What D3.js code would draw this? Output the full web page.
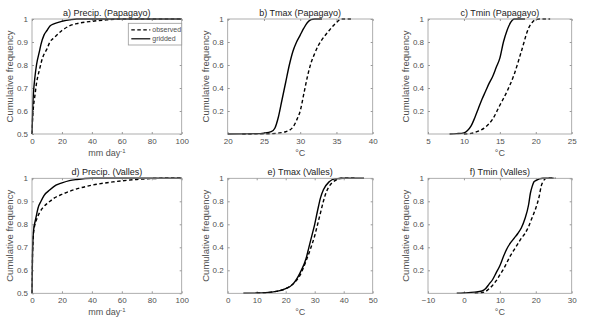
<!DOCTYPE html>
<html>
<head>
<meta charset="utf-8">
<style>
  body { margin: 0; background: #fff; }
  svg { display: block; }
</style>
</head>
<body>
<svg width="591" height="333"></svg>

<script src="https://d3js.org/d3.v7.min.js"></script>
<script>

	// Cumulative frequency curves, observed vs gridded
	// values as [x, cdf] pairs

	const precipPapObserved = [[0,0.5],[0.5,0.58],[1,0.62],[2,0.67],[3,0.72],[5,0.78],[7,0.83],[10,0.87],[12,0.9],[15,0.92],[20,0.95],[25,0.97],[30,0.98],[40,0.99],[50,0.996],[60,1],[100,1]]
	const precipPapGridded = [[0,0.5],[0.5,0.62],[1,0.68],[2,0.75],[3,0.8],[5,0.86],[6,0.89],[8,0.93],[10,0.95],[12,0.97],[15,0.98],[20,0.99],[25,0.996],[30,1],[100,1]]

	const tmaxPapObserved = [[22,0],[26,0.003],[28,0.02],[29,0.06],[29.5,0.12],[30,0.2],[30.5,0.35],[31,0.5],[31.5,0.62],[32,0.7],[32.5,0.77],[33,0.82],[34,0.9],[35,0.97],[35.7,1],[37,1]]
	const tmaxPapGridded = [[20,0],[24,0.003],[25,0.008],[26,0.02],[26.5,0.05],[27,0.15],[27.5,0.3],[28,0.45],[28.5,0.6],[29,0.72],[29.5,0.8],[30,0.86],[30.5,0.92],[31,0.97],[31.5,0.995],[32,1],[33,1]]

	const tminPapObserved = [[10,0],[11,0.005],[12,0.025],[13,0.06],[14,0.13],[15,0.25],[16,0.37],[17,0.52],[18,0.72],[19,0.92],[19.5,0.97],[20,0.995],[20.5,1],[22,1]]
	const tminPapGridded = [[8,0],[9,0.003],[10,0.01],[10.5,0.03],[11,0.07],[11.5,0.14],[12,0.22],[12.5,0.3],[13,0.37],[13.5,0.44],[14,0.5],[14.5,0.58],[15,0.66],[15.5,0.8],[16,0.9],[16.5,0.97],[17,1],[18.5,1]]

	const precipValObserved = [[0,0.5],[0.3,0.65],[0.6,0.72],[1,0.76],[2,0.8],[3,0.82],[5,0.85],[7,0.87],[10,0.89],[12,0.9],[15,0.915],[20,0.93],[28,0.95],[40,0.97],[55,0.985],[70,0.995],[90,1],[100,1]]
	const precipValGridded = [[0,0.5],[0.3,0.66],[0.6,0.73],[1,0.77],[2,0.81],[3,0.84],[4,0.87],[6,0.9],[8,0.925],[12,0.95],[16,0.97],[20,0.98],[25,0.99],[30,0.995],[40,1],[100,1]]

	const tmaxValObserved = [[10,0],[15,0.01],[20,0.04],[22.5,0.08],[25,0.16],[27,0.28],[29,0.42],[30,0.5],[31,0.6],[32,0.7],[33,0.8],[34,0.88],[35,0.93],[37,0.98],[39,1],[44,1]]
	const tmaxValGridded = [[5.4,0],[10,0.002],[15,0.01],[20,0.04],[22.5,0.08],[25,0.18],[27,0.3],[28,0.4],[29,0.5],[30,0.6],[31,0.72],[32,0.83],[33,0.9],[35,0.97],[37,0.995],[40,1],[47,1]]

	const tminValObserved = [[3,0],[5,0.005],[6,0.015],[7,0.04],[8,0.07],[9,0.11],[10,0.16],[11,0.21],[12,0.27],[13,0.33],[14,0.38],[15,0.43],[16,0.48],[17,0.52],[18,0.58],[19,0.66],[20,0.74],[21,0.85],[21.5,0.93],[22,0.97],[23,1],[25.5,1]]
	const tminValGridded = [[-2,0],[0,0.003],[3,0.01],[5,0.02],[6,0.04],[7,0.08],[8,0.12],[9,0.18],[10,0.24],[11,0.32],[12,0.39],[13,0.44],[14,0.48],[15,0.52],[16,0.57],[17,0.65],[18,0.77],[18.5,0.87],[19,0.93],[19.5,0.97],[20,0.98],[21,0.995],[22,1],[25,1]]

	const precipTicksY = [0.5, 0.6, 0.7, 0.8, 0.9, 1]
	const tempTicksY = [0.2, 0.4, 0.6, 0.8, 1]

	const panels = [
		{title: "a) Precip. (Papagayo)", x: [0, 100], xt: [0, 20, 40, 60, 80, 100], y: [0.5, 1], yt: precipTicksY, unit: "mm", obs: precipPapObserved, grid: precipPapGridded, col: 0, row: 0, legend: true},
		{title: "b) Tmax (Papagayo)", x: [20, 40], xt: [20, 25, 30, 35, 40], y: [0, 1], yt: tempTicksY, unit: "C", obs: tmaxPapObserved, grid: tmaxPapGridded, col: 1, row: 0},
		{title: "c) Tmin (Papagayo)", x: [5, 25], xt: [5, 10, 15, 20, 25], y: [0, 1], yt: tempTicksY, unit: "C", obs: tminPapObserved, grid: tminPapGridded, col: 2, row: 0},
		{title: "d) Precip. (Valles)", x: [0, 100], xt: [0, 20, 40, 60, 80, 100], y: [0.5, 1], yt: precipTicksY, unit: "mm", obs: precipValObserved, grid: precipValGridded, col: 0, row: 1},
		{title: "e) Tmax (Valles)", x: [0, 50], xt: [0, 10, 20, 30, 40, 50], y: [0, 1], yt: tempTicksY, unit: "C", obs: tmaxValObserved, grid: tmaxValGridded, col: 1, row: 1},
		{title: "f) Tmin (Valles)", x: [-10, 30], xt: [-10, 0, 10, 20, 30], y: [0, 1], yt: tempTicksY, unit: "C", obs: tminValObserved, grid: tminValGridded, col: 2, row: 1}
	]

	// panel box positions in pixels
	const colX = [[32, 181.7], [227.7, 372.7], [428, 571.7]]
	const rowY = [[19, 134], [178.3, 293.3]]

	const textColor = "#505050"
	const boxColor = "#9a9a9a"

	const svg = d3.select("svg")
		.attr("font-family", "'Liberation Sans', Arial, sans-serif")

	panels.forEach(p => {
		const [x0, x1] = colX[p.col]
		const [y0, y1] = rowY[p.row]
		const x = d3.scaleLinear().domain(p.x).range([x0, x1])
		const y = d3.scaleLinear().domain(p.y).range([y1, y0])

		const g = svg.append("g")

		// background box
		g.append("rect")
			.attr("x", x0).attr("y", y0)
			.attr("width", x1 - x0).attr("height", y1 - y0)
			.attr("fill", "#fff")

		// axes, ticks inside like matlab
		const styleAxis = a => {
			a.select(".domain").remove()
			a.selectAll(".tick line").attr("stroke", boxColor)
			a.selectAll(".tick text").attr("fill", textColor).attr("font-size", 8)
		}
		g.append("g").attr("transform", `translate(0,${y1})`)
			.call(d3.axisBottom(x).tickValues(p.xt).tickSize(-2).tickPadding(4).tickFormat(d3.format("d")))
			.call(styleAxis)
		g.append("g").attr("transform", `translate(0,${y0})`)
			.call(d3.axisTop(x).tickValues(p.xt).tickSize(-2).tickFormat(""))
			.call(styleAxis)
		g.append("g").attr("transform", `translate(${x0},0)`)
			.call(d3.axisLeft(y).tickValues(p.yt).tickSize(-2).tickPadding(4).tickFormat(d => d === 1 ? "1" : d3.format(".1f")(d)))
			.call(styleAxis)
		g.append("g").attr("transform", `translate(${x1},0)`)
			.call(d3.axisRight(y).tickValues(p.yt).tickSize(-2).tickFormat(""))
			.call(styleAxis)

		const line = d3.line().x(d => x(d[0])).y(d => y(d[1])).curve(d3.curveMonotoneX)

		g.append("path").datum(p.obs)
			.attr("d", line)
			.attr("fill", "none").attr("stroke", "#000")
			.attr("stroke-width", 1.4).attr("stroke-dasharray", "3.5,2.5")
		g.append("path").datum(p.grid)
			.attr("d", line)
			.attr("fill", "none").attr("stroke", "#000")
			.attr("stroke-width", 1.4)

		// box outline
		g.append("rect")
			.attr("x", x0).attr("y", y0)
			.attr("width", x1 - x0).attr("height", y1 - y0)
			.attr("fill", "none").attr("stroke", boxColor).attr("stroke-width", 0.8)

		// title
		g.append("text")
			.attr("x", (x0 + x1) / 2).attr("y", y0 - 3)
			.attr("text-anchor", "middle").attr("font-size", 9)
			.attr("fill", "#222")
			.text(p.title)

		// x label
		const xl = g.append("text")
			.attr("x", (x0 + x1) / 2).attr("y", y1 + 22)
			.attr("text-anchor", "middle").attr("font-size", 9)
			.attr("fill", textColor)
		if (p.unit === "mm") {
			xl.append("tspan").text("mm day")
			xl.append("tspan").attr("dy", -3).attr("font-size", 6).text("-1")
		} else {
			xl.text("°C")
		}

		// y label
		g.append("text")
			.attr("transform", `translate(${x0 - 19},${(y0 + y1) / 2}) rotate(-90)`)
			.attr("text-anchor", "middle").attr("font-size", 9.5)
			.attr("fill", textColor)
			.text("Cumulative frequency")

		if (p.legend) {
			const lx = 128.3, ly = 23.3
			const lg = g.append("g")
			lg.append("rect")
				.attr("x", lx).attr("y", ly)
				.attr("width", x1 - lx).attr("height", 21.7)
				.attr("fill", "#fff").attr("stroke", boxColor).attr("stroke-width", 0.8)
			const items = [["observed", "3.5,2.5"], ["gridded", null]]
			items.forEach(([name, dash], i) => {
				const yy = ly + 6.5 + i * 9
				lg.append("line")
					.attr("x1", lx + 3).attr("x2", lx + 22)
					.attr("y1", yy).attr("y2", yy)
					.attr("stroke", "#000").attr("stroke-width", 1.2)
					.attr("stroke-dasharray", dash)
				lg.append("text")
					.attr("x", lx + 24).attr("y", yy + 2.5)
					.attr("font-size", 7).attr("fill", textColor)
					.text(name)
			})
		}
	})

</script>
</body>
</html>
